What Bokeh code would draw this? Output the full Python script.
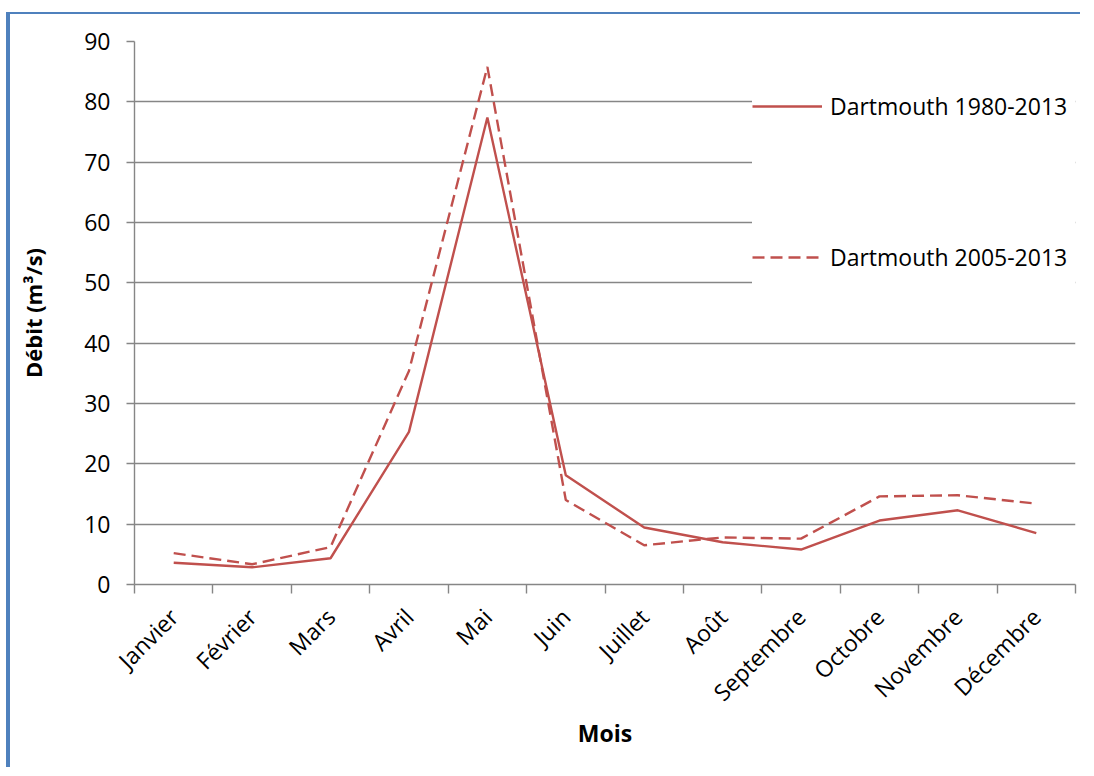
from math import pi
from bokeh.plotting import figure
from bokeh.models import FixedTicker, Legend, LegendItem, Range1d, ColumnDataSource
from bokeh.embed import file_html
from bokeh.resources import INLINE

months = ["Janvier", "Février", "Mars", "Avril", "Mai", "Juin", "Juillet",
          "Août", "Septembre", "Octobre", "Novembre", "Décembre"]
debit_1980_2013 = [3.6, 2.85, 4.35, 25.3, 77.4, 18.1, 9.45, 7.0, 5.8, 10.6, 12.3, 8.5]
debit_2005_2013 = [5.2, 3.35, 6.2, 35.4, 85.8, 14.0, 6.5, 7.8, 7.6, 14.6, 14.8, 13.4]
y_ticks = [0, 10, 20, 30, 40, 50, 60, 70, 80, 90]
series_names = ["Dartmouth 1980-2013", "Dartmouth 2005-2013"]

FONT = "Open Sans"
GRAY = "#868686"
RED = "#C0504D"
BLUE = "#4F81BD"

x_pos = [i + 0.5 for i in range(len(months))]
src = ColumnDataSource(dict(x=x_pos, a=debit_1980_2013, b=debit_2005_2013))

p = figure(width=1074, height=755, output_backend="svg", toolbar_location=None,
           x_range=Range1d(0, len(months)), y_range=Range1d(y_ticks[0], y_ticks[-1]),
           min_border_left=124, min_border_right=9, min_border_top=27, min_border_bottom=185)
p.styles = {"margin-top": "12px", "margin-left": "6px",
            "border-top": "2px solid " + BLUE, "border-left": "4px solid " + BLUE}
p.outline_line_color = None
p.background_fill_color = "white"
p.border_fill_color = "white"

r1 = p.line("x", "a", source=src, line_color=RED, line_width=2.4)
r2 = p.line("x", "b", source=src, line_color=RED, line_width=2.4, line_dash="12 6")

# grid
p.xgrid.visible = False
p.ygrid.ticker = FixedTicker(ticks=y_ticks)
p.ygrid.grid_line_color = GRAY
p.ygrid.grid_line_width = 1.4

# y axis
ya = p.yaxis[0]
ya.ticker = FixedTicker(ticks=y_ticks)
ya.axis_line_color = GRAY
ya.axis_line_width = 1.4
ya.major_tick_line_color = GRAY
ya.major_tick_line_width = 1.4
ya.major_tick_out = 8
ya.major_tick_in = 0
ya.minor_tick_line_color = None
ya.major_label_standoff = 16
ya.major_label_text_font = FONT
ya.major_label_text_font_size = "23px"
ya.major_label_text_color = "black"
ya.axis_label = "Débit (m³/s)"
ya.axis_label_text_font = FONT
ya.axis_label_text_font_size = "22px"
ya.axis_label_text_font_style = "bold"
ya.axis_label_text_color = "black"
ya.axis_label_standoff = 33

# x axis
xa = p.xaxis[0]
xa.ticker = FixedTicker(ticks=x_pos, minor_ticks=list(range(len(months) + 1)))
xa.major_label_overrides = {x: m for x, m in zip(x_pos, months)}
xa.axis_line_color = GRAY
xa.axis_line_width = 1.4
xa.major_tick_line_color = None
xa.major_tick_out = 0
xa.major_tick_in = 0
xa.minor_tick_line_color = GRAY
xa.minor_tick_line_width = 1.4
xa.minor_tick_out = 9
xa.minor_tick_in = 0
xa.major_label_orientation = pi / 4
xa.major_label_standoff = 19
xa.major_label_text_font = FONT
xa.major_label_text_font_size = "23px"
xa.major_label_text_color = "black"
xa.axis_label = "Mois"
xa.axis_label_text_font = FONT
xa.axis_label_text_font_size = "23px"
xa.axis_label_text_font_style = "bold"
xa.axis_label_text_color = "black"
xa.axis_label_standoff = -5

legend = Legend(items=[LegendItem(label=series_names[0], renderers=[r1]),
                       LegendItem(label=series_names[1], renderers=[r2])],
                location=(618, 297), orientation="vertical",
                glyph_width=70, glyph_height=60, label_height=60, label_standoff=8,
                label_width=246,
                spacing=91, padding=0, margin=0,
                title=" ", title_text_font_size="13px", title_standoff=36,
                label_text_font=FONT, label_text_font_size="23px", label_text_color="black",
                background_fill_color="white", background_fill_alpha=1.0,
                border_line_color=None)
p.add_layout(legend)

open("out.html", "w").write(file_html(p, INLINE))
